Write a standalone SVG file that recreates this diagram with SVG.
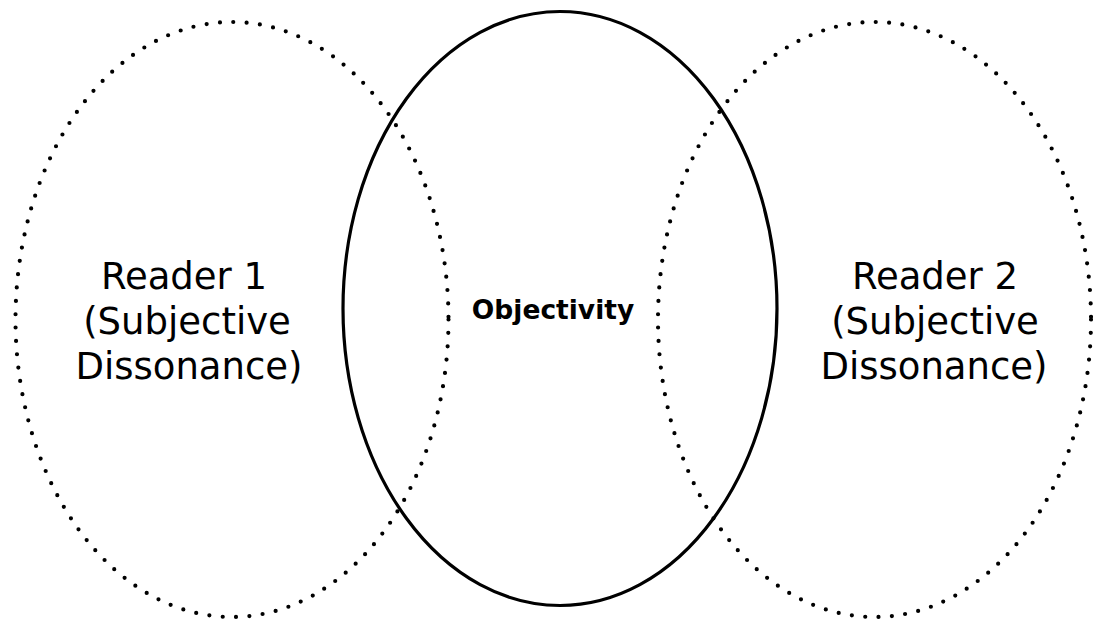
<svg xmlns="http://www.w3.org/2000/svg" width="1093" height="621" viewBox="0 0 1093 621">
<style>
.dot{fill:none;stroke:#000;stroke-width:4.2;stroke-linecap:round;stroke-dasharray:0 13.4}
.solid{fill:none;stroke:#000;stroke-width:3.2}
.lbl{font-family:"DejaVu Sans",Verdana,sans-serif;font-size:37px;fill:#000;text-anchor:middle}
.bold{font-family:"DejaVu Sans",Verdana,sans-serif;font-size:26.5px;font-weight:bold;fill:#000;text-anchor:middle}
</style>
<rect width="1093" height="621" fill="#fff"/>
<g id="reader1">
<ellipse class="dot" cx="232" cy="319.5" rx="216.5" ry="297.5"/>
<text class="lbl"><tspan x="184" y="289">Reader 1</tspan><tspan x="187" y="334">(Subjective</tspan><tspan x="189" y="379">Dissonance)</tspan></text>
</g>
<g id="reader2">
<ellipse class="dot" cx="874.5" cy="319.5" rx="216.5" ry="297.5"/>
<text class="lbl"><tspan x="935" y="289">Reader 2</tspan><tspan x="935" y="334">(Subjective</tspan><tspan x="934" y="379">Dissonance)</tspan></text>
</g>
<g id="objectivity">
<ellipse class="solid" cx="560" cy="308.5" rx="217" ry="297"/>
<text class="bold" x="553" y="319">Objectivity</text>
</g>
<g id="connectors"></g>
</svg>
